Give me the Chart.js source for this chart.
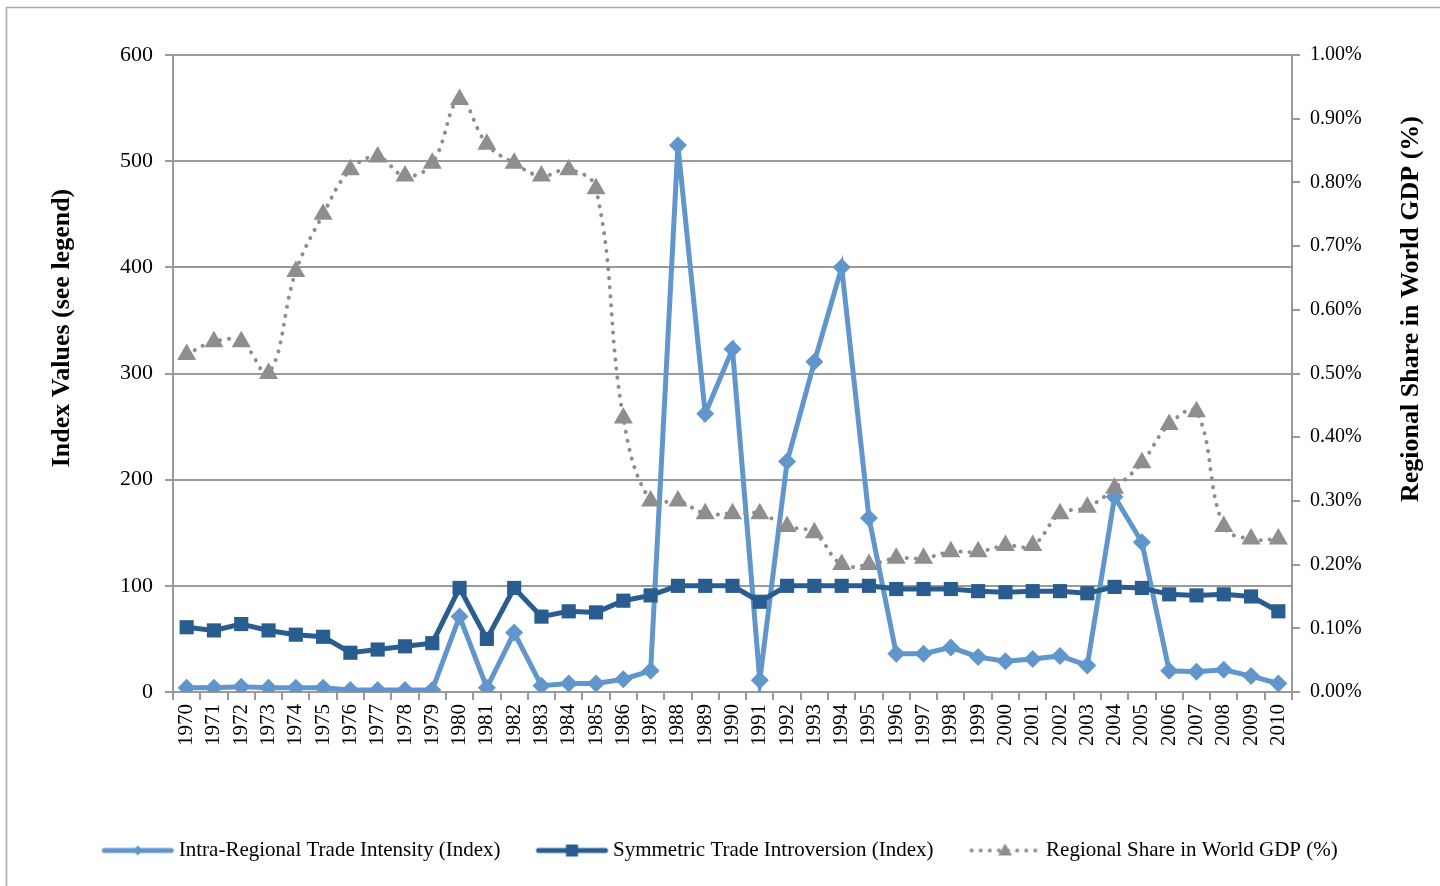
<!DOCTYPE html>
<html lang="en">
	<head>
		<meta charset="UTF-8" />
		<title>Regional trade indices</title>
		<script src="https://cdn.jsdelivr.net/npm/chart.js"></script>
		<style>
			html, body { margin: 0; padding: 0; background: #fff; }
			#wrap { position: relative; width: 1440px; height: 886px; }
		</style>
	</head>

	<body>
		<div id="wrap"><canvas id="myChart"></canvas></div>
	</body>
	<script>
		const years = [];
		for (let y = 1970; y <= 2010; y++) years.push(String(y));

		// Intra-Regional Trade Intensity (Index), left axis
		const intensity = [4, 4, 5, 4, 4, 4, 2, 2, 2, 2,
			71, 4, 56, 6, 8, 8, 12, 20, 515, 262,
			323, 11, 217, 311, 400, 164, 36, 36, 42, 33,
			29, 31, 34, 25, 184, 141, 20, 19, 21, 15, 8];

		// Symmetric Trade Introversion (Index), left axis
		const introversion = [61, 58, 64, 58, 54, 52, 37, 40, 43, 46,
			98, 50, 98, 71, 76, 75, 86, 91, 100, 100,
			100, 85, 100, 100, 100, 100, 97, 97, 97, 95,
			94, 95, 95, 93, 99, 98, 92, 91, 92, 90, 76];

		// Regional Share in World GDP (%), right axis
		const gdpShare = [0.53, 0.55, 0.55, 0.50, 0.66, 0.75, 0.82, 0.84, 0.81, 0.83,
			0.93, 0.86, 0.83, 0.81, 0.82, 0.79, 0.43, 0.30, 0.30, 0.28,
			0.28, 0.28, 0.26, 0.25, 0.20, 0.20, 0.21, 0.21, 0.22, 0.22,
			0.23, 0.23, 0.28, 0.29, 0.32, 0.36, 0.42, 0.44, 0.26, 0.24, 0.24];

		const leftTicks = [0, 100, 200, 300, 400, 500, 600];
		const rightTicks = [0, 0.1, 0.2, 0.3, 0.4, 0.5, 0.6, 0.7, 0.8, 0.9, 1.0];

		const LIGHT = "#6096cb";
		const DARK = "#295c8f";
		const GREY = "#8e8e8e";
		const AXIS = "#9a9a9a";
		const FONT = "'Liberation Serif', 'Times New Roman', serif";

		// little legend pictures: line with marker in the middle
		// (canvas is wider than the legend box so the line sits closer to the text)
		function legendIcon(color, marker, dotted) {
			const c = document.createElement("canvas");
			c.width = 80;
			c.height = 22;
			const g = c.getContext("2d");
			g.strokeStyle = color;
			g.fillStyle = color;
			g.lineCap = "round";
			g.lineWidth = dotted ? 4 : 5;
			if (dotted) g.setLineDash([0.1, 9]);
			g.beginPath();
			g.moveTo(9, 11);
			g.lineTo(76, 11);
			g.stroke();
			g.setLineDash([]);
			const cx = 42.5;
			g.beginPath();
			if (marker === "diamond") {
				g.moveTo(cx, 6); g.lineTo(cx + 5, 11); g.lineTo(cx, 16); g.lineTo(cx - 5, 11);
			} else if (marker === "square") {
				g.rect(cx - 6, 5, 12, 12);
			} else {
				g.moveTo(cx, 4); g.lineTo(cx + 7, 16); g.lineTo(cx - 7, 16);
			}
			g.closePath();
			g.fill();
			return c;
		}

		const icons = [
			legendIcon(LIGHT, "diamond", false),
			legendIcon(DARK, "square", false),
			legendIcon(GREY, "triangle", true),
		];

		const frameAndTitles = {
			id: "frameAndTitles",
			afterDraw(chart) {
				const ctx = chart.ctx;
				ctx.save();
				ctx.strokeStyle = "#a8a8a8";
				ctx.lineWidth = 1.5;
				ctx.beginPath();
				ctx.moveTo(6.5, 886);
				ctx.lineTo(6.5, 7.5);
				ctx.lineTo(1440, 7.5);
				ctx.stroke();

				ctx.fillStyle = "#000";
				ctx.font = "bold 26px " + FONT;
				ctx.textAlign = "center";
				ctx.textBaseline = "middle";
				ctx.translate(62, 328);
				ctx.rotate(-Math.PI / 2);
				ctx.fillText("Index Values (see legend)", 0, 0);
				ctx.restore();

				ctx.save();
				ctx.fillStyle = "#000";
				ctx.font = "bold 26px " + FONT;
				ctx.textAlign = "center";
				ctx.textBaseline = "middle";
				ctx.translate(1411, 309);
				ctx.rotate(-Math.PI / 2);
				ctx.fillText("Regional Share in World GDP (%)", 0, 0);
				ctx.restore();
			},
		};

		const ctx = document.getElementById("myChart");

		const myChart = new Chart(ctx, {
			type: "line",
			data: {
				labels: years,
				datasets: [
					{
						label: "Intra-Regional Trade Intensity (Index)",
						data: intensity,
						yAxisID: "y",
						borderColor: LIGHT,
						backgroundColor: LIGHT,
						borderWidth: 5,
						pointStyle: "rectRot",
						pointRadius: 9,
						pointBorderWidth: 0,
						tension: 0,
						order: 3,
					},
					{
						label: "Symmetric Trade Introversion (Index)",
						data: introversion,
						yAxisID: "y",
						borderColor: DARK,
						backgroundColor: DARK,
						borderWidth: 5,
						pointStyle: "rect",
						pointRadius: 10,
						pointBorderWidth: 0,
						tension: 0,
						order: 2,
					},
					{
						label: "Regional Share in World GDP (%)",
						data: gdpShare,
						yAxisID: "y2",
						borderColor: GREY,
						backgroundColor: GREY,
						borderWidth: 4,
						borderDash: [0.1, 9],
						borderCapStyle: "round",
						pointStyle: "triangle",
						pointRadius: 11,
						pointBorderWidth: 0,
						tension: 0.4,
						order: 1,
					},
				],
			},
			options: {
				responsive: true,
				maintainAspectRatio: false,
				animation: false,
				layout: { padding: { top: 55, left: 0, right: 0, bottom: 15 } },
				plugins: {
					tooltip: { enabled: false },
					legend: {
						position: "bottom",
						labels: {
							usePointStyle: true,
							pointStyleWidth: 66,
							padding: 36,
							color: "#000",
							font: { family: FONT, size: 21 },
							generateLabels: (chart) =>
								chart.data.datasets.map((ds, i) => ({
									text: ds.label,
									pointStyle: icons[i],
									fillStyle: ds.borderColor,
									strokeStyle: ds.borderColor,
									lineWidth: 0,
									hidden: false,
									datasetIndex: i,
									fontColor: "#000",
								})),
						},
					},
				},
				scales: {
					x: {
						offset: true,
						afterFit: (s) => { s.height = 112; },
						border: { color: AXIS, width: 2 },
						grid: {
							offset: true,
							drawOnChartArea: false,
							drawTicks: true,
							tickLength: 8,
							color: AXIS,
							lineWidth: 2,
						},
						ticks: {
							autoSkip: false,
							maxRotation: 90,
							minRotation: 90,
							padding: 4,
							color: "#000",
							font: { family: FONT, size: 21 },
						},
					},
					y: {
						position: "left",
						min: 0,
						max: 600,
						afterFit: (s) => { s.width = 173; },
						afterBuildTicks: (s) => { s.ticks = leftTicks.map((v) => ({ value: v })); },
						border: { color: AXIS, width: 2 },
						grid: {
							color: AXIS,
							lineWidth: 2,
							tickLength: 8,
						},
						ticks: {
							padding: 12,
							color: "#000",
							font: { family: FONT, size: 22 },
						},
					},
					y2: {
						position: "right",
						min: 0,
						max: 1,
						afterFit: (s) => { s.width = 148; },
						afterBuildTicks: (s) => { s.ticks = rightTicks.map((v) => ({ value: v })); },
						border: { color: AXIS, width: 2 },
						grid: {
							drawOnChartArea: false,
							color: AXIS,
							lineWidth: 2,
							tickLength: 8,
						},
						ticks: {
							padding: 10,
							color: "#000",
							font: { family: FONT, size: 20 },
							callback: (v) => v.toFixed(2) + "%",
						},
					},
				},
			},
			plugins: [frameAndTitles],
		});
	</script>
</html>
